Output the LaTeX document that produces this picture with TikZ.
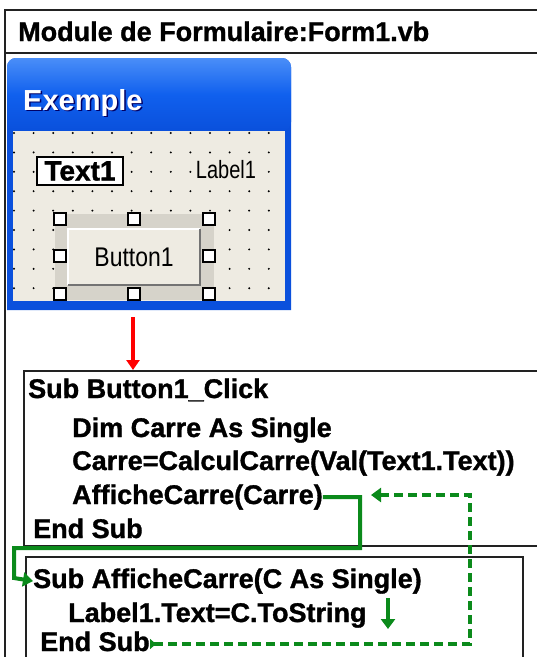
\documentclass[tikz,border=0pt]{standalone}
\usepackage{fontspec}
\setmainfont{Liberation Sans}
\newfontfamily\codefont{Liberation Sans Bold}[FakeBold=1.2]
\usetikzlibrary{arrows.meta}
\definecolor{xpblue}{HTML}{0A50DC}
\definecolor{xpblueL}{HTML}{4A8EF8}
\definecolor{xpblueM}{HTML}{1060EE}
\definecolor{formbg}{HTML}{EEEBE2}
\definecolor{selbg}{HTML}{D6D3CA}
\definecolor{codegreen}{HTML}{0B8A1B}
\definecolor{framegray}{HTML}{222222}
\tikzset{
  codetxt/.style={anchor=base west, inner sep=0pt, font=\codefont\fontsize{27}{29}\selectfont},
  codebox/.style={draw=framegray, line width=2pt, fill=white, anchor=north west, inner sep=0pt},
  handle/.style={draw=black, fill=white, line width=1.5pt, minimum size=12pt, inner sep=0pt},
  gline/.style={draw=codegreen, line width=4pt},
  gdash/.style={draw=codegreen, line width=3.6pt, dash pattern=on 9pt off 5pt},
  gtip/.style={-{Triangle[length=10pt,width=14pt]}},
}
\begin{document}
\begin{tikzpicture}[x=1pt,y=-1pt]
\useasboundingbox (0,0) rectangle (537,657);
\fill[white] (0,0) rectangle (537,657);
% outer frame and header
\draw[framegray, line width=2pt] (5,660) -- (5,10) -- (540,10);
\draw[framegray, line width=2pt] (5,53) -- (540,53);
\node[codetxt] (header) at (18,41) {Module de Formulaire:Form1.vb};
% window
\fill[xpblue] (7,310) [rounded corners=9pt] -- (7,58) -- (291,58) [sharp corners] -- (291,310) -- cycle;
\shade[top color=xpblueL, bottom color=xpblue, middle color=xpblueM, rounded corners=9pt] (7,131) -- (7,58) -- (291,58) -- (291,131) [sharp corners] -- cycle;
\node[anchor=base west, inner sep=0pt, text=black!60!blue, font=\bfseries\fontsize{29}{30}\selectfont] at (24.5,111.5) {Exemple};
\node[anchor=base west, inner sep=0pt, text=white, font=\bfseries\fontsize{29}{30}\selectfont] (title) at (23,110) {Exemple};
\fill[formbg] (13,131) rectangle (285,302);
\foreach \i in {0,...,13} \foreach \j in {0,...,8}
  \fill (14+19.6*\i, 133+19.4*\j) circle (1.1pt);
% Text1 and Label1
\node[draw=black, line width=2.2pt, fill=white, minimum width=86pt, minimum height=28pt, inner sep=0pt,
      font=\codefont\fontsize{28}{30}\selectfont] (text1) at (80,171) {Text1};
\node[fill=formbg, inner sep=1pt, font=\fontsize{25}{27}\selectfont] (label1) at (226,170) {\scalebox{0.8}[1]{Label1}};
% selection and button
\fill[selbg] (55,214) rectangle (214,300);
\node[fill=formbg, minimum width=132pt, minimum height=56pt, inner sep=0pt,
      font=\fontsize{27}{29}\selectfont] (btn) at (134,257) {\scalebox{0.85}[1]{Button1}};
\draw[white, line width=1.5pt] (btn.south west) -- (btn.north west) -- (btn.north east);
\draw[black!55, line width=2pt] (btn.north east) -- (btn.south east) -- (btn.south west);
\foreach \x/\y [count=\k] in {60/219,134/219,209/219,60/256,209/256,60/294,134/294,209/294}
  \node[handle] (h\k) at (\x,\y) {};
\fill[xpblue] (7,301) rectangle (291,310);
\fill[xpblue] (7,131) rectangle (13,310);
\fill[xpblue] (285,131) rectangle (291,310);
% code boxes
\node[codebox, minimum width=530pt, minimum height=175pt] (box1) at (23,370) {};
\node[codebox, minimum width=497pt, minimum height=120pt] (box2) at (25,556) {};
\node[codetxt] (s1) at (28,398) {Sub Button1\_Click};
\node[codetxt] (s2) at (72,437) {Dim Carre As Single};
\node[codetxt] (s3) at (72,470) {Carre=CalculCarre(Val(Text1.Text))};
\node[codetxt] (afc) at (72,504) {AfficheCarre(Carre)};
\node[codetxt] (s5) at (33,538) {End Sub};
\node[codetxt] (sub2) at (33,588) {Sub AfficheCarre(C As Single)};
\node[codetxt] (lab) at (68,622) {Label1.Text=C.ToString};
\node[codetxt] (end2) at (40,651) {End Sub};
% red arrow
\coordinate (rs) at (133,317);
\draw[red, line width=3.5pt, -{Triangle[length=10pt,width=13pt]}] (rs) -- (rs |- box1.north);
% green solid call
\coordinate (g1) at (360,548);
\coordinate (g2) at (14,578);
\draw[gline, gtip] (afc.east) -| (g1) -| (g2) -- (sub2.west);
% small down arrow
\coordinate (d1) at (388,598);
\coordinate (d2) at (388,629);
\draw[gline, gtip] (d1) -- (d2);
% dashed return
\coordinate (r0) at (150,644);
\coordinate (r1) at (470,495);
\coordinate (r2) at (371,495);
\draw[gdash, {Triangle[reversed,length=6pt,width=10pt]}-{Triangle[length=10pt,width=14pt]}] (r0) -| (r1) -- (r2);
\end{tikzpicture}
\end{document}
